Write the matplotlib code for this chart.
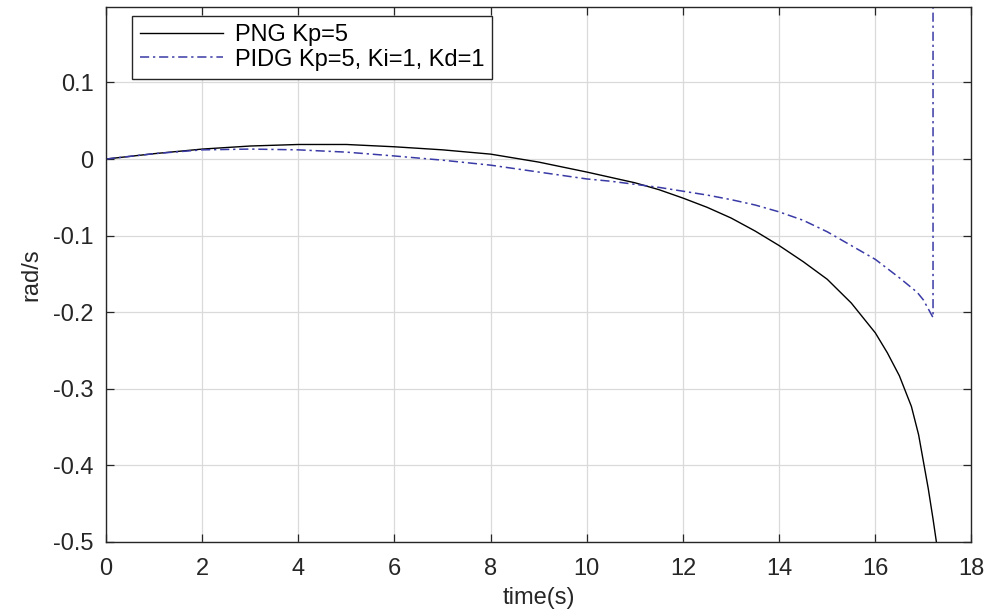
import matplotlib
matplotlib.use("Agg")
import matplotlib.pyplot as plt

# data
t_png = [0, 1, 2, 3, 4, 5, 6, 7, 8, 9, 10, 10.5, 11, 11.5, 12, 12.5, 13, 13.5, 14, 14.5, 15,
         15.5, 16, 16.25, 16.5, 16.75, 16.9, 17, 17.1, 17.2, 17.27, 17.32]
png = [0, 0.007, 0.013, 0.017, 0.019, 0.019, 0.016, 0.012, 0.0064, -0.004, -0.017, -0.024,
       -0.031, -0.040, -0.051, -0.063, -0.077, -0.094, -0.113, -0.134, -0.157,
       -0.188, -0.227, -0.253, -0.283, -0.323, -0.360, -0.395, -0.430, -0.470, -0.5, -0.53]

t_pidg = [0, 1, 2, 3, 4, 5, 6, 7, 8, 9, 10, 10.5, 11, 11.5, 12, 12.5, 13, 13.5, 14, 14.5, 15,
          15.5, 16, 16.5, 16.87, 17.0, 17.2, 17.2]
pidg = [0, 0.007, 0.012, 0.013, 0.012, 0.009, 0.004, -0.0015, -0.008, -0.017, -0.026, -0.029,
        -0.033, -0.037, -0.042, -0.047, -0.053, -0.060, -0.069, -0.080, -0.095,
        -0.113, -0.131, -0.155, -0.174, -0.184, -0.207, 5.0]

labels = ["PNG Kp=5", "PIDG Kp=5, Ki=1, Kd=1"]
xticks = [0, 2, 4, 6, 8, 10, 12, 14, 16, 18]
yticks = [-0.5, -0.4, -0.3, -0.2, -0.1, 0, 0.1]
ytick_labels = ["-0.5", "-0.4", "-0.3", "-0.2", "-0.1", "0", "0.1"]

plt.rcParams['font.family'] = ['Liberation Sans', 'DejaVu Sans']

fig = plt.figure(figsize=(9.92, 6.15), dpi=100)
ax = fig.add_axes([106/992, 1-542/615, (971.5-106)/992, (542-7)/615])

ax.plot(t_png, png, color='black', lw=1.0, label=labels[0])
ax.plot(t_pidg, pidg, color='#3a3aa6', lw=1.1, linestyle=(0, (6, 2.5, 1.5, 2.5)), label=labels[1])

ax.set_xlim(0, 18)
ax.set_ylim(-0.5, 0.1985)
ax.set_xticks(xticks)
ax.set_xticklabels([str(x) for x in xticks])
ax.set_yticks(yticks)
ax.set_yticklabels(ytick_labels)
ax.grid(True, color='#dadada', lw=0.9)
ax.set_axisbelow(True)
ax.tick_params(direction='in', top=True, right=True, length=6, width=0.9,
               labelsize=17, colors='#262626')
ax.tick_params(axis='x', pad=11.5)
ax.tick_params(axis='y', pad=9)
for s in ax.spines.values():
    s.set_color('#262626')
    s.set_linewidth(1.0)

ax.set_xlabel("time(s)", fontsize=17, color='#262626', labelpad=5)
ax.set_ylabel("rad/s", fontsize=17, color='#262626', labelpad=8)

leg = ax.legend(loc='upper left', bbox_to_anchor=(132/992, 1-16/615), bbox_transform=fig.transFigure,
                fontsize=17, frameon=True, fancybox=False, edgecolor='#262626', framealpha=1,
                handlelength=3.5, handletextpad=0.5, borderpad=0.35, labelspacing=0.1,
                borderaxespad=0)
leg.get_frame().set_linewidth(1.0)

fig.savefig("out.png", dpi=100)
